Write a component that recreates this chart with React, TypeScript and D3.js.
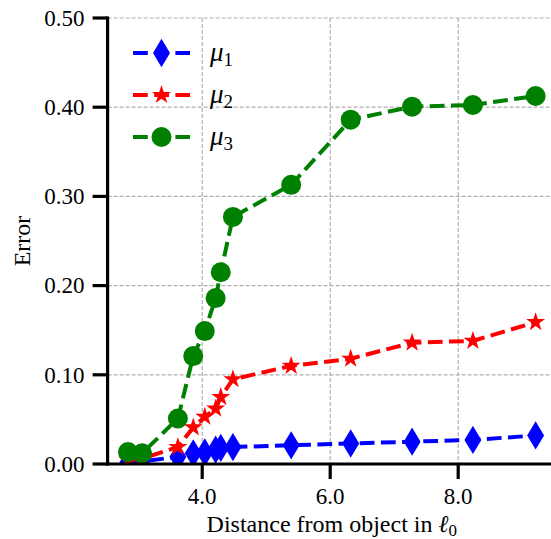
import React from "react";
import * as d3 from "d3";

const distances = [2.84, 3.06, 3.62, 3.86, 4.04, 4.21, 4.29, 4.48, 5.39, 6.32, 7.28, 8.23, 9.21];
const mu1 = [0.002, 0.003, 0.008, 0.012, 0.013, 0.016, 0.018, 0.019, 0.021, 0.023, 0.025, 0.027, 0.032];
const mu2 = [0.004, 0.006, 0.019, 0.041, 0.053, 0.062, 0.075, 0.095, 0.11, 0.118, 0.136, 0.138, 0.159];
const mu3 = [0.0135, 0.012, 0.051, 0.121, 0.149, 0.186, 0.215, 0.277, 0.313, 0.386, 0.4006, 0.4025, 0.4126];
const xTicks = [4, 6, 8];
const yTicks = [0, 0.1, 0.2, 0.3, 0.4, 0.5];
const seriesNames = ["1", "2", "3"];

const W = 551;
const H = 539;
const left = 107.6;
const right = 556;
const top = 18;
const bottom = 464;
const SERIF = "Liberation Serif, Times New Roman, serif";
const tStyle = { fontFamily: SERIF };

export default function App() {
  const xMin = d3.min(distances)!;
  const xMax = d3.max(distances)!;
  const pad = (xMax - xMin) * 0.05;
  const x = d3.scaleLinear().domain([xMin - pad, xMax + pad]).range([left, right]);
  const y = d3.scaleLinear().domain([0, 0.5]).range([bottom, top]);

  const series = [
    { values: mu1, color: "#0000ff", marker: "diamond" },
    { values: mu2, color: "#ff0000", marker: "star" },
    { values: mu3, color: "#008000", marker: "circle" },
  ];

  const ms = 20;
  const starPath = (() => {
    const pts: string[] = [];
    const R = ms / 2;
    const r = R * 0.381966;
    for (let i = 0; i < 10; i++) {
      const a = (Math.PI / 5) * i - Math.PI / 2;
      const rr = i % 2 === 0 ? R : r;
      pts.push(`${(rr * Math.cos(a)).toFixed(2)},${(rr * Math.sin(a)).toFixed(2)}`);
    }
    return "M" + pts.join("L") + "Z";
  })();
  const dh = (Math.SQRT2 * ms) / 2;
  const dw = (Math.SQRT2 * ms * 0.6) / 2;
  const diamondPath = `M0,${-dh}L${dw},0L0,${dh}L${-dw},0Z`;

  const marker = (kind: string, color: string, key: string, cx: number, cy: number) => {
    if (kind === "circle") return <circle key={key} cx={cx} cy={cy} r={ms / 2} fill={color} />;
    const d = kind === "star" ? starPath : diamondPath;
    return <path key={key} d={d} transform={`translate(${cx},${cy})`} fill={color} />;
  };

  const line = d3
    .line<number>()
    .x((_, i) => x(distances[i]))
    .y((v) => y(v));

  const dash = "14.8 6.4";

  return (
    <svg width={W} height={H} style={{ position: "absolute", left: 0, top: 0, background: "#fff" }}>
      <defs>
        <clipPath id="plotclip">
          <rect x={left} y={top} width={right - left} height={bottom - top} />
        </clipPath>
      </defs>
      <g stroke="#b0b0b0" strokeWidth={1.2} strokeDasharray="4 2">
        {xTicks.map((t) => (
          <line key={"gx" + t} x1={x(t)} x2={x(t)} y1={top} y2={bottom} />
        ))}
        {yTicks.map((t) => (
          <line key={"gy" + t} x1={left} x2={right} y1={y(t)} y2={y(t)} />
        ))}
      </g>
      <g clipPath="url(#plotclip)">
        {series.map((s, si) => (
          <g key={"s" + si}>
            <path d={line(s.values)!} fill="none" stroke={s.color} strokeWidth={4} strokeDasharray={dash} />
            {s.values.map((v, i) => marker(s.marker, s.color, `m${si}-${i}`, x(distances[i]), y(v)))}
          </g>
        ))}
      </g>
      <g stroke="#000" strokeWidth={3.2} strokeLinecap="butt">
        <line x1={left} x2={left} y1={top - 1.6} y2={bottom + 1.6} />
        <line x1={left - 1.6} x2={right} y1={bottom} y2={bottom} />
        {yTicks.map((t) => (
          <line key={"ty" + t} x1={left - 15} x2={left} y1={y(t)} y2={y(t)} />
        ))}
        {xTicks.map((t) => (
          <line key={"tx" + t} x1={x(t)} x2={x(t)} y1={bottom} y2={bottom + 15} />
        ))}
      </g>
      {yTicks.map((t) => (
        <text key={"ly" + t} x={left - 23} y={y(t)} dy="0.34em" textAnchor="end" fontSize={23} style={tStyle}>
          {t.toFixed(2)}
        </text>
      ))}
      {xTicks.map((t) => (
        <text key={"lx" + t} x={x(t)} y={bottom + 40} textAnchor="middle" fontSize={23} style={tStyle}>
          {t.toFixed(1)}
        </text>
      ))}
      <text x={(left + right) / 2} y={532} fontSize={24} textAnchor="middle" style={tStyle}>
        Distance from object in <tspan fontStyle="italic">ℓ</tspan>
        <tspan fontSize={17} dy={4}>0</tspan>
      </text>
      <text transform={`translate(30,${(top + bottom) / 2}) rotate(-90)`} fontSize={24} textAnchor="middle" style={tStyle}>
        Error
      </text>
      {series.map((s, si) => {
        const ly = 53 + si * 42;
        return (
          <g key={"lg" + si}>
            <line x1={133} x2={190} y1={ly} y2={ly} stroke={s.color} strokeWidth={4} strokeDasharray={dash} />
            {marker(s.marker, s.color, "lm" + si, 161.5, ly)}
            <text x={210} y={ly + 8} fontSize={27} style={tStyle}>
              <tspan fontStyle="italic">μ</tspan>
              <tspan fontSize={19} dy={5}>{seriesNames[si]}</tspan>
            </text>
          </g>
        );
      })}
    </svg>
  );
}
